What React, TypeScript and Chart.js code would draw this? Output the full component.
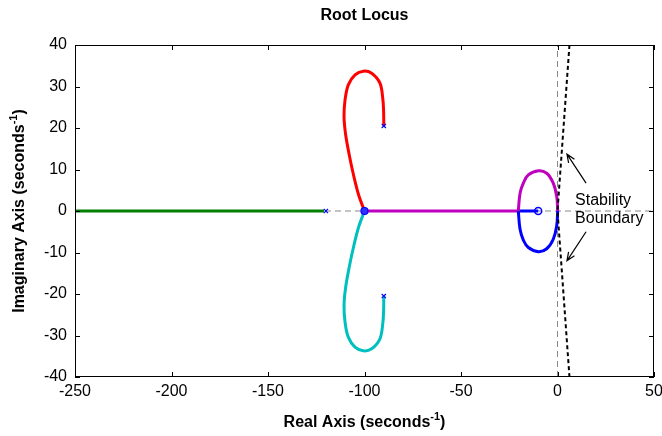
import React, { useEffect, useRef } from 'react';
import { Chart, registerables } from 'chart.js';

Chart.register(...registerables);

// ---- data ----
const xTicks = [-250, -200, -150, -100, -50, 0, 50];
const yTicks = [-40, -30, -20, -10, 0, 10, 20, 30, 40];

const greenX = [-250, -121];
const greenY = [0, 0];

const redX = [-90, -90.1, -90.5, -92.0, -96.3, -100.6, -104.9, -108.4, -110.1, -110.6, -109.8, -107.9, -105.6, -103.0, -100];
const redY = [20.5, 24.0, 27.0, 30.8, 33.2, 33.7, 32.8, 30.4, 26.7, 22.7, 18.5, 13.5, 8.5, 3.8, 0];

const cyanX = [-90, -90.1, -90.5, -92.0, -96.3, -100.6, -104.9, -108.4, -110.1, -110.6, -109.8, -107.9, -105.6, -103.0, -100];
const cyanY = [-20.5, -24.0, -27.0, -30.8, -33.2, -33.7, -32.8, -30.4, -26.7, -22.7, -18.5, -13.5, -8.5, -3.8, 0];

const magentaRealX = [-100, -20.3];
const magentaRealY = [0, 0];
const magentaArcX = [-20.3, -19.4, -17.7, -15.1, -9.9, -5.6, -2.2, -0.4, 0.1];
const magentaArcY = [0, 4.3, 6.7, 8.7, 9.7, 9.1, 6.7, 3.5, 0];

const blueRealX = [-10, -20.3];
const blueRealY = [0, 0];
const blueArcX = [-20.3, -19.4, -17.7, -15.1, -9.9, -5.6, -2.2, -0.4, 0.1];
const blueArcY = [0, -4.4, -7.0, -8.8, -9.8, -9.1, -6.8, -3.5, 0];

const poleX = [-90, -90, -120];
const poleY = [20.5, -20.5, 0];
const zeroX = [-100];
const zeroY = [0];
const openZeroX = [-10];
const openZeroY = [0];

const boundaryX = [6.2, 0, 6.2];
const boundaryY = [40, 0, -40];

const refHX = [-250, 50];
const refHY = [0, 0];
const refVX = [0, 0];
const refVY = [-40, 40];

const noteLines = ['Stability', 'Boundary'];
const noteX = 9.1;
const noteY = [2.4, -1.9];
const arrowTailX = [14.8, 14.8];
const arrowTailY = [6.7, -5.0];
const arrowHeadX = [4.9, 4.9];
const arrowHeadY = [13.7, -12.0];

const titleText = 'Root Locus';
const xTitle = ['Real Axis (seconds', '-1', ')'];
const yTitle = ['Imaginary Axis (seconds', '-1', ')'];

const FONT = '"Liberation Sans", Arial, Helvetica, sans-serif';

const pts = (xs: number[], ys: number[]) => xs.map((x, i) => ({ x, y: ys[i] }));

function drawSup(ctx: CanvasRenderingContext2D, parts: string[], cx: number, cy: number) {
  const mainFont = `bold 16px ${FONT}`;
  const supFont = `bold 11px ${FONT}`;
  ctx.font = mainFont;
  const w1 = ctx.measureText(parts[0]).width;
  const w3 = ctx.measureText(parts[2]).width;
  ctx.font = supFont;
  const w2 = ctx.measureText(parts[1]).width;
  const total = w1 + w2 + w3;
  let x = cx - total / 2;
  ctx.textBaseline = 'middle';
  ctx.textAlign = 'left';
  ctx.font = mainFont;
  ctx.fillText(parts[0], x, cy);
  x += w1;
  ctx.font = supFont;
  ctx.fillText(parts[1], x, cy - 6);
  x += w2;
  ctx.font = mainFont;
  ctx.fillText(parts[2], x, cy);
}

const framePlugin = {
  id: 'framePlugin',
  afterDraw(chart: any) {
    const { ctx, chartArea: a, scales } = chart;
    const xs = scales.x;
    const ys = scales.y;
    ctx.save();
    // frame
    ctx.strokeStyle = '#000';
    ctx.lineWidth = 1;
    ctx.strokeRect(Math.round(a.left) + 0.5, Math.round(a.top) + 0.5, Math.round(a.right - a.left) - 1, Math.round(a.bottom - a.top) - 1);
    // inward ticks
    const tl = 5;
    ctx.beginPath();
    xTicks.forEach((v) => {
      const px = Math.round(xs.getPixelForValue(v)) + 0.5;
      ctx.moveTo(px, a.bottom);
      ctx.lineTo(px, a.bottom - tl);
      ctx.moveTo(px, a.top);
      ctx.lineTo(px, a.top + tl);
    });
    yTicks.forEach((v) => {
      const py = Math.round(ys.getPixelForValue(v)) + 0.5;
      ctx.moveTo(a.left, py);
      ctx.lineTo(a.left + tl, py);
      ctx.moveTo(a.right, py);
      ctx.lineTo(a.right - tl, py);
    });
    ctx.stroke();

    ctx.fillStyle = '#000';
    // title
    ctx.font = `bold 16px ${FONT}`;
    ctx.textAlign = 'center';
    ctx.textBaseline = 'middle';
    const cx = (a.left + a.right) / 2;
    ctx.fillText(titleText, cx, 16);
    // x title
    drawSup(ctx, xTitle, cx, 423);
    // y title
    ctx.save();
    ctx.translate(20, (a.top + a.bottom) / 2);
    ctx.rotate(-Math.PI / 2);
    drawSup(ctx, yTitle, 0, 0);
    ctx.restore();

    // annotation text
    ctx.font = `16px ${FONT}`;
    ctx.textAlign = 'left';
    ctx.textBaseline = 'middle';
    noteLines.forEach((t, i) => {
      ctx.fillText(t, xs.getPixelForValue(noteX), ys.getPixelForValue(noteY[i]));
    });
    // arrows
    ctx.strokeStyle = '#000';
    ctx.lineWidth = 1.2;
    for (let i = 0; i < arrowTailX.length; i++) {
      const x0 = xs.getPixelForValue(arrowTailX[i]);
      const y0 = ys.getPixelForValue(arrowTailY[i]);
      const x1 = xs.getPixelForValue(arrowHeadX[i]);
      const y1 = ys.getPixelForValue(arrowHeadY[i]);
      const ang = Math.atan2(y1 - y0, x1 - x0);
      const hl = 9;
      const ha = 0.4;
      ctx.beginPath();
      ctx.moveTo(x0, y0);
      ctx.lineTo(x1, y1);
      ctx.moveTo(x1 - hl * Math.cos(ang - ha), y1 - hl * Math.sin(ang - ha));
      ctx.lineTo(x1, y1);
      ctx.lineTo(x1 - hl * Math.cos(ang + ha), y1 - hl * Math.sin(ang + ha));
      ctx.stroke();
    }
    ctx.restore();
  },
};

const line = (data: any, color: string, extra: any = {}) => ({
  data,
  showLine: true,
  borderColor: color,
  backgroundColor: color,
  borderWidth: 3,
  pointRadius: 0,
  tension: 0,
  ...extra,
});

export default function App() {
  const ref = useRef<HTMLCanvasElement | null>(null);
  useEffect(() => {
    document.body.style.margin = '0';
    const canvas = ref.current!;
    const tickFont = { family: FONT, size: 16 };
    const chart = new Chart(canvas, {
      type: 'scatter',
      data: {
        datasets: [
          {
            data: pts(poleX, poleY),
            pointStyle: 'crossRot',
            pointRadius: 3,
            borderColor: '#0000ff',
            borderWidth: 1.2,
            showLine: false,
          } as any,
          {
            data: pts(zeroX, zeroY),
            pointStyle: 'circle',
            pointRadius: 3.5,
            borderColor: '#0000ff',
            backgroundColor: '#3030ff',
            borderWidth: 1.2,
            showLine: false,
          },
          {
            data: pts(openZeroX, openZeroY),
            pointStyle: 'circle',
            pointRadius: 3.5,
            borderColor: '#0000ff',
            backgroundColor: 'rgba(255,255,255,0)',
            borderWidth: 1.5,
            showLine: false,
          },
          line(pts(boundaryX, boundaryY), '#000000', { borderWidth: 2, borderDash: [4, 3] }),
          line(pts(redX, redY), '#ff0000', { tension: 0.35 }),
          line(pts(cyanX, cyanY), '#00bfbf', { tension: 0.35 }),
          line(pts(magentaArcX, magentaArcY), '#bf00bf', { tension: 0.4 }),
          line(pts(blueArcX, blueArcY), '#0000ff', { tension: 0.4 }),
          line(pts(blueRealX, blueRealY), '#0000ff'),
          line(pts(magentaRealX, magentaRealY), '#bf00bf'),
          line(pts(greenX, greenY), '#007f00'),
          line(pts(refHX, refHY), '#888888', { borderWidth: 1, borderDash: [6, 4] }),
          line(pts(refVX, refVY), '#888888', { borderWidth: 1, borderDash: [6, 4] }),
        ],
      },
      options: {
        animation: false,
        responsive: false,
        layout: { padding: { left: 0, top: 45, right: 8, bottom: 0 } },
        plugins: {
          legend: { display: false },
          tooltip: { enabled: false },
          title: { display: false },
        },
        scales: {
          x: {
            type: 'linear',
            min: -250,
            max: 50,
            afterBuildTicks: (s: any) => {
              s.ticks = xTicks.map((v) => ({ value: v }));
            },
            afterFit: (s: any) => {
              s.height = 59;
              s.paddingLeft = 0;
              s.paddingRight = 0;
            },
            grid: { display: false, drawTicks: false },
            border: { display: false },
            ticks: { font: tickFont, color: '#000', padding: 5, maxRotation: 0, autoSkip: false },
          },
          y: {
            type: 'linear',
            min: -40,
            max: 40,
            afterBuildTicks: (s: any) => {
              s.ticks = yTicks.map((v) => ({ value: v }));
            },
            afterFit: (s: any) => {
              s.width = 75;
              s.paddingTop = 0;
              s.paddingBottom = 0;
            },
            grid: { display: false, drawTicks: false },
            border: { display: false },
            ticks: { font: tickFont, color: '#000', padding: 8, autoSkip: false },
          },
        },
      },
      plugins: [framePlugin],
    });
    return () => chart.destroy();
  }, []);
  return (
    <canvas ref={ref} width={662} height={436} style={{ display: 'block', width: 662, height: 436 }} />
  );
}
